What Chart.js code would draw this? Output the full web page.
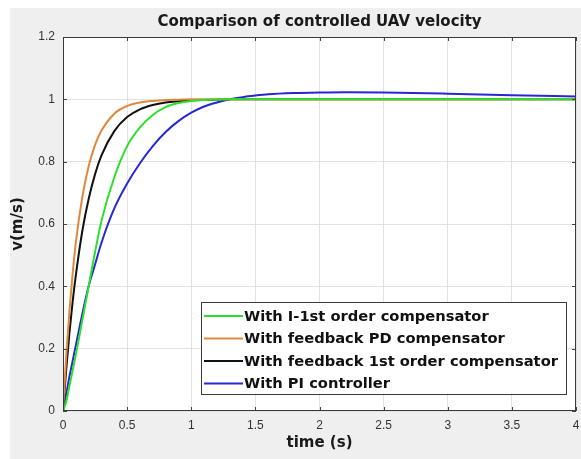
<!DOCTYPE html>
<html lang="en">
<head>
    <meta charset="UTF-8">
    <title>Comparison of controlled UAV velocity</title>
    <script src="https://cdn.jsdelivr.net/npm/chart.js"></script>
    <style>
        html, body { margin: 0; padding: 0; background: #ffffff; }
        #wrap { width: 581px; height: 459px; }
    </style>
</head>
<body>
    <div id="wrap"><canvas id="velChart" width="581" height="459"></canvas></div>

    <script>
        // time axis (s) and the four step responses
        const timeS = [0, 0.025, 0.05, 0.075, 0.1, 0.15, 0.2, 0.25, 0.3, 0.4, 0.5, 0.6, 0.7, 0.8, 0.9, 1.0, 1.1, 1.2, 1.3, 1.4, 1.5, 1.6, 1.8, 2.0, 2.2, 2.5, 3.0, 3.5, 4.0];
        const vIFirstOrder = [0, 0.03, 0.08, 0.13, 0.18, 0.29, 0.40, 0.51, 0.61, 0.75, 0.85, 0.91, 0.95, 0.975, 0.988, 0.995, 0.998, 0.999, 1.0, 1.0, 1.0, 1.0, 1.0, 1.0, 1.0, 1.0, 1.0, 1.0, 1.0];
        const vFeedbackPD  = [0, 0.175, 0.32, 0.44, 0.54, 0.685, 0.785, 0.854, 0.90, 0.954, 0.979, 0.99, 0.995, 0.998, 0.999, 1.0, 1.0, 1.0, 1.0, 1.0, 1.0, 1.0, 1.0, 1.0, 1.0, 1.0, 1.0, 1.0, 1.0];
        const vFeedback1st = [0, 0.133, 0.25, 0.35, 0.435, 0.576, 0.68, 0.76, 0.82, 0.898, 0.943, 0.968, 0.982, 0.99, 0.994, 0.997, 0.998, 0.999, 1.0, 1.0, 1.0, 1.0, 1.0, 1.0, 1.0, 1.0, 1.0, 1.0, 1.0];
        const vPIControl   = [0, 0.055, 0.11, 0.16, 0.21, 0.31, 0.40, 0.47, 0.54, 0.65, 0.73, 0.795, 0.85, 0.895, 0.93, 0.957, 0.977, 0.99, 1.0, 1.007, 1.012, 1.016, 1.02, 1.022, 1.023, 1.022, 1.018, 1.013, 1.009];

        const seriesLabels = ['With I-1st order compensator', 'With feedback PD compensator', 'With feedback 1st order compensator', 'With PI controller'];
        const seriesColors = ['#2be02b', '#e0893e', '#111111', '#2727d6'];
        const seriesValues = [vIFirstOrder, vFeedbackPD, vFeedback1st, vPIControl];

        const xTickLabels = ['0', '0.5', '1', '1.5', '2', '2.5', '3', '3.5', '4'];
        const yTickLabels = ['0', '0.2', '0.4', '0.6', '0.8', '1', '1.2'];

        const FONT = 'Arial, "Liberation Sans", sans-serif';
        const BOLD = 'bold 15px "DejaVu Sans", Verdana, sans-serif';
        const LEGEND_FONT = 'bold 14.7px "DejaVu Sans", Verdana, sans-serif';

        // figure background, plot box, title, axis labels, inner ticks and legend
        const matlabLook = {
            id: 'matlabLook',
            beforeDraw(chart) {
                const { ctx, chartArea: a } = chart;
                ctx.save();
                ctx.fillStyle = '#ffffff';
                ctx.fillRect(0, 0, chart.width, chart.height);
                ctx.fillStyle = '#efefef';
                ctx.fillRect(10, 8, chart.width - 10, chart.height - 8);
                ctx.fillStyle = '#ffffff';
                ctx.fillRect(a.left, a.top, a.right - a.left, a.bottom - a.top);
                ctx.restore();
            },
            afterDraw(chart) {
                const { ctx, chartArea: a, scales } = chart;
                ctx.save();
                // inner tick marks
                ctx.strokeStyle = '#444';
                ctx.lineWidth = 1;
                ctx.beginPath();
                scales.x.ticks.forEach(t => {
                    const px = Math.round(scales.x.getPixelForValue(t.value)) + 0.5;
                    ctx.moveTo(px, a.bottom); ctx.lineTo(px, a.bottom - 4);
                    ctx.moveTo(px, a.top); ctx.lineTo(px, a.top + 4);
                });
                scales.y.ticks.forEach(t => {
                    const py = Math.round(scales.y.getPixelForValue(t.value)) + 0.5;
                    ctx.moveTo(a.left, py); ctx.lineTo(a.left + 4, py);
                    ctx.moveTo(a.right, py); ctx.lineTo(a.right - 4, py);
                });
                ctx.stroke();
                // box
                ctx.strokeStyle = '#3a3a3a';
                ctx.strokeRect(a.left + 0.5, a.top + 0.5, a.right - a.left - 1, a.bottom - a.top - 1);

                // title and axis labels
                const cx = (a.left + a.right) / 2;
                ctx.fillStyle = '#1a1a1a';
                ctx.textAlign = 'center';
                ctx.textBaseline = 'middle';
                ctx.font = BOLD;
                ctx.fillText('Comparison of controlled UAV velocity', cx, 22);
                ctx.fillText('time (s)', cx, 443);
                ctx.save();
                ctx.translate(18, (a.top + a.bottom) / 2);
                ctx.rotate(-Math.PI / 2);
                ctx.fillText('v(m/s)', 0, 0);
                ctx.restore();

                // legend
                const lx = 201, ly = 302, lw = 366, lh = 93;
                ctx.fillStyle = '#ffffff';
                ctx.fillRect(lx, ly, lw, lh);
                ctx.strokeStyle = '#3a3a3a';
                ctx.strokeRect(lx + 0.5, ly + 0.5, lw - 1, lh - 1);
                ctx.textAlign = 'left';
                ctx.font = LEGEND_FONT;
                chart.data.datasets.forEach((ds, i) => {
                    const ry = ly + 14 + i * 22.5;
                    ctx.strokeStyle = ds.borderColor;
                    ctx.lineWidth = 2;
                    ctx.beginPath();
                    ctx.moveTo(lx + 3, ry); ctx.lineTo(lx + 42, ry);
                    ctx.stroke();
                    ctx.fillStyle = '#111111';
                    ctx.fillText(ds.label, lx + 43, ry + 1);
                });
                ctx.restore();
            }
        };

        const ctx = document.getElementById('velChart').getContext('2d');
        new Chart(ctx, {
            type: 'line',
            data: {
                datasets: seriesValues.map((vals, i) => ({
                    label: seriesLabels[i],
                    data: timeS.map((t, k) => ({ x: t, y: vals[k] })),
                    borderColor: seriesColors[i],
                    backgroundColor: seriesColors[i],
                    borderWidth: 2,
                    pointRadius: 0,
                    cubicInterpolationMode: 'monotone',
                    fill: false
                }))
            },
            options: {
                responsive: false,
                animation: false,
                layout: { padding: { left: 0, top: 37, right: 5, bottom: 0 } },
                plugins: { legend: { display: false }, title: { display: false }, tooltip: { enabled: false } },
                scales: {
                    x: {
                        type: 'linear', min: 0, max: 4,
                        grid: { color: '#e2e2e2', drawTicks: false },
                        border: { display: false },
                        ticks: {
                            stepSize: 0.5, padding: 7, color: '#333',
                            font: { family: FONT, size: 12 },
                            callback: (v, i) => xTickLabels[i]
                        },
                        afterFit: s => { s.height = 48; s.paddingLeft = 0; s.paddingRight = 0; }
                    },
                    y: {
                        min: 0, max: 1.2,
                        grid: { color: '#e2e2e2', drawTicks: false },
                        border: { display: false },
                        ticks: {
                            stepSize: 0.2, padding: 8, color: '#333',
                            font: { family: FONT, size: 12 },
                            callback: (v, i) => yTickLabels[i]
                        },
                        afterFit: s => { s.width = 63; s.paddingTop = 0; s.paddingBottom = 0; }
                    }
                }
            },
            plugins: [matlabLook]
        });
    </script>
</body>
</html>
